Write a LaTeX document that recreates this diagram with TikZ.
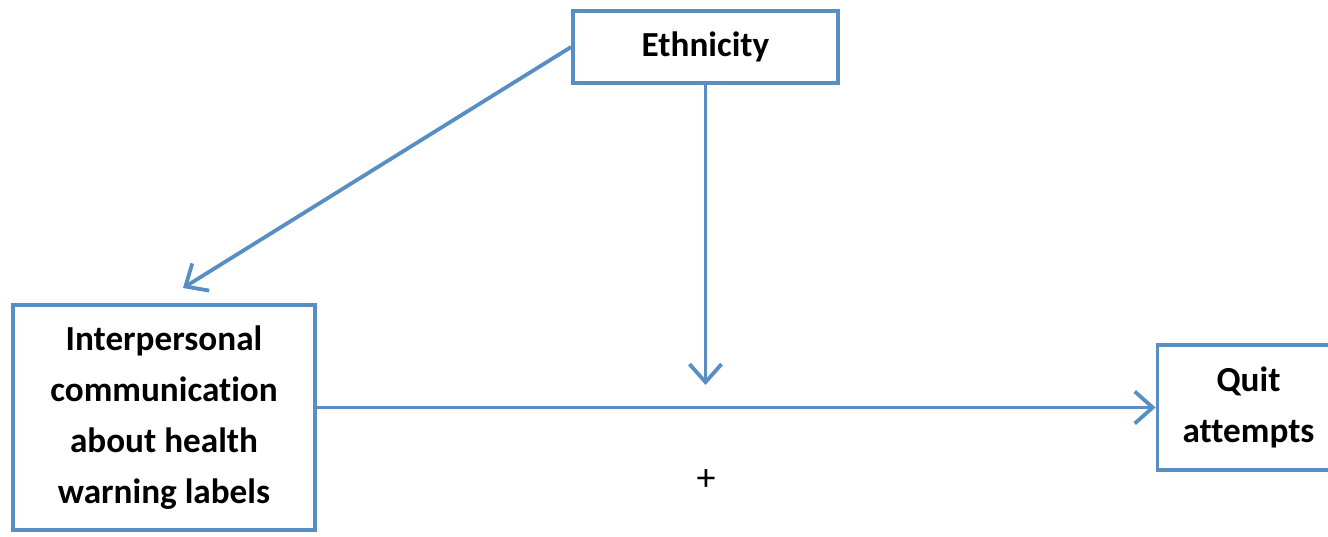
\documentclass[tikz,border=0pt]{standalone}
\usepackage{fontspec}
\setmainfont[Ligatures=CommonOff]{Carlito}
\usepackage{tikz}
\usetikzlibrary{arrows.meta}
\definecolor{linkblue}{RGB}{88,142,196}
\tikzset{
  box/.style={draw=linkblue,line width=1.9pt,fill=white,align=center,
              inner sep=0pt,font=\fontsize{17.6}{25.5}\selectfont\bfseries},
  link/.style={linkblue,line width=1.9pt,
               -{Straight Barb[length=9pt,width=16pt,line width=1.9pt]}},
  sign/.style={font=\fontsize{19}{22}\selectfont},
}
\begin{document}
\begin{tikzpicture}[x=0.5pt,y=-0.5pt]
  \path[use as bounding box] (0,0) rectangle (1328,536);

  \node[box,minimum width=132.5pt,minimum height=36pt] (ethnicity) at (705.5,47)
    {Ethnicity};
  \node[box,minimum width=151pt,minimum height=112.5pt] (talk) at (164,417.5)
    {Interpersonal\\communication\\about health\\warning labels};
  \node[box,minimum width=91pt,minimum height=62.5pt] (quit) at (1248.5,407.5)
    {Quit\\attempts};

  \coordinate (talktip) at (183,288);
  \coordinate (modtip) at (705.5,385);

  \draw[link] (ethnicity.west) -- (talktip);
  \draw[link] (ethnicity.south) -- (modtip);
  \draw[link] (talk.east |- quit.west) -- (quit.west);

  \node[sign] (plus) at (706,480) {+};
\end{tikzpicture}
\end{document}
